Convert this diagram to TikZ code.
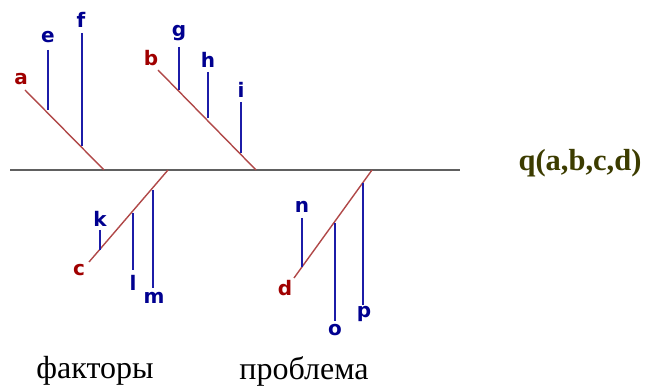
\documentclass[tikz,border=0pt]{standalone}
\usepackage{fontspec}
\setmainfont{Liberation Serif}
\newfontfamily\lblfont{DejaVu Sans}
\definecolor{bl}{HTML}{1C1CA8}
\definecolor{blt}{HTML}{000090}
\definecolor{rd}{HTML}{B04848}
\definecolor{rdt}{HTML}{A00000}
\definecolor{sp}{HTML}{606060}
\definecolor{ol}{HTML}{3C3C00}
\tikzset{
  spine/.style={draw=sp, line width=1.8pt},
  cause/.style={draw=rd, line width=1.4pt},
  sub/.style={draw=bl, line width=1.6pt},
  rl/.style={text=rdt, font=\lblfont\bfseries\fontsize{20}{20}\selectfont, inner sep=0pt},
  bll/.style={text=blt, font=\lblfont\bfseries\fontsize{20}{20}\selectfont, inner sep=0pt},
  captext/.style={font=\fontsize{32}{32}\selectfont, inner sep=0pt},
}
\begin{document}
\begin{tikzpicture}[x=1pt,y=-1pt]
\useasboundingbox (0,0) rectangle (649,387);
% spine
\coordinate (s0) at (10,170);
\coordinate (s1) at (460,170);
\draw[spine] (s0) -- (s1);
% branch a
\coordinate (a0) at (25,90); \coordinate (a1) at (104,170);
\draw[cause] (a0) -- (a1);
\node[rl] (la) at (21,79) {a};
\coordinate (e0) at (48,50); \coordinate (e1) at (48,110);
\draw[sub] (e0) -- (e1); \node[bll] (le) at (48,37) {e};
\coordinate (f0) at (82,33); \coordinate (f1) at (82,146);
\draw[sub] (f0) -- (f1); \node[bll] (lf) at (81,20) {f};
% branch b
\coordinate (b0) at (158,70); \coordinate (b1) at (256,170);
\draw[cause] (b0) -- (b1);
\node[rl] (lb) at (151,58) {b};
\coordinate (g0) at (179,47); \coordinate (g1) at (179,90);
\draw[sub] (g0) -- (g1); \node[bll] (lg) at (179,33) {g};
\coordinate (h0) at (208,72); \coordinate (h1) at (208,118);
\draw[sub] (h0) -- (h1); \node[bll] (lh) at (208,60) {h};
\coordinate (i0) at (241,102); \coordinate (i1) at (241,153);
\draw[sub] (i0) -- (i1); \node[bll] (li) at (241,90) {i};
% branch c
\coordinate (c0) at (168,170); \coordinate (c1) at (89,262);
\draw[cause] (c0) -- (c1);
\node[rl] (lc) at (79,270) {c};
\coordinate (k0) at (100,230); \coordinate (k1) at (100,250);
\draw[sub] (k0) -- (k1); \node[bll] (lk) at (100,219) {k};
\coordinate (l0) at (133,213); \coordinate (l1) at (133,270);
\draw[sub] (l0) -- (l1); \node[bll] (ll) at (133,283) {l};
\coordinate (m0) at (153,190); \coordinate (m1) at (153,288);
\draw[sub] (m0) -- (m1); \node[bll] (lm) at (154,298) {m};
% branch d
\coordinate (d0) at (372,170); \coordinate (d1) at (294,278);
\draw[cause] (d0) -- (d1);
\node[rl] (ld) at (285,288) {d};
\coordinate (n0) at (302,218); \coordinate (n1) at (302,267);
\draw[sub] (n0) -- (n1); \node[bll] (ln) at (302,207) {n};
\coordinate (o0) at (335,223); \coordinate (o1) at (335,321);
\draw[sub] (o0) -- (o1); \node[bll] (lo) at (335,330) {o};
\coordinate (p0) at (363,183); \coordinate (p1) at (363,305);
\draw[sub] (p0) -- (p1); \node[bll] (lp) at (364,314) {p};
% texts
\node[font=\bfseries\fontsize{30.5}{30.5}\selectfont, text=ol, inner sep=0pt] (q) at (580,163) {q(a,b,c,d)};
\node[captext] (t1) at (95,371) {факторы};
\node[captext] (t2) at (304,371) {проблема};
\end{tikzpicture}
\end{document}
